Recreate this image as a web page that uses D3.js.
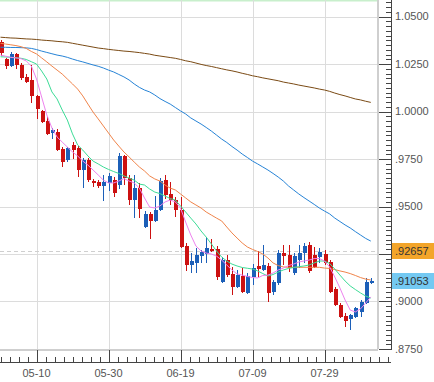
<!DOCTYPE html>
<html><head><meta charset="utf-8">
<script src="https://cdn.jsdelivr.net/npm/d3@7/dist/d3.min.js"></script>
<style>html,body{margin:0;padding:0;background:#fff;}svg{display:block;}</style>
</head><body>
<svg id="c" width="434" height="382"></svg>
<script>
// ---- data ----
const tickLabels = ["05-10","05-30","06-19","07-09","07-29"];
const tickIndex = [7,21,35,49,63];
const yTicks = [1.05,1.025,1.0,0.975,0.95,0.925,0.9,0.875];
const openV = [1.0366,1.0276,1.0239,1.0303,1.0245,1.0182,1.0166,1.0082,1.0003,0.9950,
0.9887,0.9892,0.9803,0.9745,0.9824,0.9808,0.9692,0.9745,0.9634,0.9629,
0.9608,0.9624,0.9639,0.9613,0.9766,0.9650,0.9534,0.9597,0.9392,0.9461,
0.9424,0.9482,0.9639,0.9566,0.9534,0.9482,0.9292,0.9192,0.9203,0.9239,
0.9250,0.9276,0.9276,0.9103,0.9218,0.9145,0.9076,0.9134,0.9045,0.9129,
0.9187,0.9166,0.9187,0.9050,0.9097,0.9255,0.9245,0.9150,0.9218,0.9255,
0.9297,0.9245,0.9234,0.9250,0.9208,0.9066,0.8982,0.8924,0.8908,0.8918,
0.8945,0.8992,0.9097];
const closeV = [1.0308,1.0239,1.0303,1.0245,1.0176,1.0155,1.0082,1.0013,0.9945,0.9882,
0.9903,0.9797,0.9734,0.9808,0.9797,0.9692,0.9745,0.9639,0.9624,0.9608,
0.9629,0.9660,0.9571,0.9766,0.9650,0.9534,0.9597,0.9487,0.9461,0.9424,
0.9482,0.9634,0.9561,0.9534,0.9482,0.9287,0.9192,0.9213,0.9245,0.9261,
0.9282,0.9266,0.9129,0.9218,0.9139,0.9076,0.9139,0.9050,0.9134,0.9176,
0.9171,0.9192,0.9045,0.9103,0.9255,0.9239,0.9176,0.9239,0.9255,0.9292,
0.9161,0.9182,0.9261,0.9203,0.9050,0.8982,0.8918,0.8897,0.8929,0.8966,
0.8997,0.9103,0.91053];
const highV = [1.0376,1.0282,1.0313,1.0308,1.0255,1.0197,1.0245,1.0087,1.0008,0.9971,
0.9913,0.9908,0.9813,0.9813,0.9839,0.9819,0.9755,0.9755,0.9645,0.9639,
0.9666,0.9676,0.9655,0.9782,0.9771,0.9666,0.9666,0.9624,0.9476,0.9471,
0.9555,0.9650,0.9666,0.9629,0.9550,0.9550,0.9308,0.9255,0.9282,0.9271,
0.9339,0.9329,0.9292,0.9234,0.9245,0.9182,0.9166,0.9176,0.9150,0.9197,
0.9266,0.9297,0.9203,0.9113,0.9271,0.9297,0.9297,0.9255,0.9297,0.9308,
0.9313,0.9287,0.9282,0.9271,0.9218,0.9076,0.8992,0.8939,0.8934,0.8971,
0.9008,0.9124,0.9124];
const lowV = [1.0292,1.0224,1.0234,1.0224,1.0166,1.0150,1.0045,0.9961,0.9939,0.9876,
0.9855,0.9792,0.9708,0.9734,0.9750,0.9655,0.9597,0.9629,0.9603,0.9597,
0.9529,0.9582,0.9550,0.9592,0.9613,0.9508,0.9439,0.9439,0.9387,0.9329,
0.9418,0.9476,0.9539,0.9508,0.9445,0.9282,0.9161,0.9150,0.9150,0.9203,
0.9203,0.9261,0.9113,0.9097,0.9129,0.9034,0.9071,0.9045,0.9039,0.9087,
0.9129,0.9161,0.8997,0.9034,0.9087,0.9192,0.9155,0.9139,0.9176,0.9203,
0.9150,0.9176,0.9203,0.9192,0.9045,0.8976,0.8913,0.8866,0.8850,0.8913,
0.8918,0.8987,0.9092];
const ma5 = [1.0297,1.0291,1.0285,1.0282,1.0278,1.0266,1.0239,1.0171,1.0076,0.9982,
0.9913,0.9866,0.9839,0.9813,0.9787,0.9766,0.9739,0.9718,0.9692,0.9666,
0.9639,0.9624,0.9624,0.9634,0.9647,0.9634,0.9624,0.9597,0.9545,0.9497,
0.9492,0.9503,0.9524,0.9534,0.9524,0.9492,0.9418,0.9350,0.9292,0.9266,
0.9255,0.9250,0.9239,0.9218,0.9192,0.9166,0.9145,0.9139,0.9132,0.9126,
0.9124,0.9137,0.9139,0.9150,0.9166,0.9176,0.9189,0.9197,0.9208,0.9213,
0.9218,0.9226,0.9226,0.9213,0.9182,0.9129,0.9071,0.9008,0.8955,0.8945,
0.8961,0.8992,0.9024];
const ma10 = [1.0288,1.0287,1.0285,1.0283,1.0280,1.0274,1.0262,1.0250,1.0213,1.0171,
1.0103,1.0066,1.0008,0.9955,0.9882,0.9824,0.9797,0.9766,0.9739,0.9724,
0.9708,0.9695,0.9684,0.9674,0.9661,0.9650,0.9639,0.9618,0.9613,0.9592,
0.9576,0.9568,0.9555,0.9542,0.9534,0.9503,0.9471,0.9439,0.9408,0.9371,
0.9339,0.9303,0.9266,0.9234,0.9213,0.9197,0.9187,0.9179,0.9175,0.9171,
0.9161,0.9147,0.9134,0.9142,0.9155,0.9166,0.9174,0.9179,0.9183,0.9187,
0.9192,0.9203,0.9213,0.9213,0.9200,0.9171,0.9139,0.9108,0.9082,0.9063,
0.9045,0.9029,0.9018];
const ma20 = [1.0359,1.0355,1.0351,1.0347,1.0341,1.0332,1.0316,1.0303,1.0282,1.0261,
1.0239,1.0218,1.0197,1.0171,1.0145,1.0118,1.0082,1.0039,0.9997,0.9961,
0.9924,0.9887,0.9850,0.9818,0.9787,0.9761,0.9734,0.9708,0.9687,0.9661,
0.9645,0.9634,0.9613,0.9597,0.9587,0.9566,0.9545,0.9524,0.9508,0.9492,
0.9471,0.9455,0.9439,0.9424,0.9392,0.9361,0.9334,0.9308,0.9287,0.9274,
0.9263,0.9250,0.9229,0.9203,0.9189,0.9182,0.9180,0.9180,0.9180,0.9180,
0.9180,0.9180,0.9180,0.9176,0.9174,0.9168,0.9161,0.9155,0.9147,0.9137,
0.9126,0.9118,0.9113];
const ma60 = [1.0338,1.0338,1.0337,1.0337,1.0336,1.0335,1.0332,1.0326,1.0318,1.0311,
1.0304,1.0297,1.0292,1.0285,1.0276,1.0268,1.0261,1.0253,1.0245,1.0238,
1.0229,1.0218,1.0208,1.0195,1.0182,1.0166,1.0145,1.0127,1.0113,1.0103,
1.0087,1.0068,1.0053,1.0039,1.0021,1.0003,0.9987,0.9966,0.9950,0.9934,
0.9916,0.9897,0.9876,0.9855,0.9837,0.9816,0.9797,0.9776,0.9758,0.9739,
0.9724,0.9708,0.9692,0.9674,0.9655,0.9634,0.9608,0.9587,0.9566,0.9547,
0.9529,0.9511,0.9492,0.9476,0.9461,0.9439,0.9421,0.9403,0.9387,0.9368,
0.9350,0.9332,0.9318];
const ma200 = [1.0391,1.0389,1.0387,1.0386,1.0384,1.0382,1.0381,1.0379,1.0376,1.0374,
1.0372,1.0369,1.0367,1.0364,1.0359,1.0354,1.0349,1.0344,1.0339,1.0334,
1.0331,1.0327,1.0324,1.0321,1.0318,1.0316,1.0313,1.0310,1.0306,1.0302,
1.0296,1.0292,1.0288,1.0284,1.0280,1.0274,1.0267,1.0262,1.0255,1.0248,
1.0242,1.0237,1.0231,1.0225,1.0219,1.0214,1.0208,1.0201,1.0195,1.0188,
1.0183,1.0177,1.0172,1.0167,1.0162,1.0155,1.0150,1.0145,1.0139,1.0134,
1.0129,1.0124,1.0118,1.0113,1.0106,1.0097,1.0089,1.0082,1.0074,1.0066,
1.0061,1.0054,1.0048];
const markLevel = 0.92657;
const lastPrice = 0.91053;

// ---- layout ----
const plotRight = 378, plotBottom = 349, axisX = 391, xAxisY = 362;
const svg = d3.select("#c");
const n = openV.length;
const x = d3.scaleLinear().domain([0, 14]).range([0.5, 72.5]);
const y = d3.scaleLinear().domain([0.875, 1.05]).range([plotBottom, 16.5]);
const font = "'Liberation Sans', Arial, sans-serif";

// top border
svg.append("rect").attr("x",0).attr("y",0).attr("width",plotRight).attr("height",1.5).attr("fill","#c8efcc");

// grid
const g = svg.append("g").attr("shape-rendering","crispEdges");
yTicks.forEach(v => {
  const yy = Math.round(y(v)) + 0.5;
  g.append("line").attr("x1",0).attr("x2",plotRight).attr("y1",yy).attr("y2",yy).attr("stroke","#dcdcdc");
});
tickIndex.forEach(i => {
  const xx = Math.round(x(i)) + 0.5;
  g.append("line").attr("x1",xx).attr("x2",xx).attr("y1",0).attr("y2",plotBottom).attr("stroke","#dcdcdc");
});
svg.append("line").attr("x1",0).attr("x2",plotRight)
  .attr("y1",Math.round(y(markLevel))+0.5).attr("y2",Math.round(y(markLevel))+0.5)
  .attr("stroke","#cfcfcf").attr("stroke-dasharray","4,3").attr("shape-rendering","crispEdges");
g.append("line").attr("x1",plotRight).attr("x2",plotRight).attr("y1",0).attr("y2",plotBottom).attr("stroke","#cfcfcf").attr("stroke-width",2);
g.append("line").attr("x1",0).attr("x2",plotRight).attr("y1",plotBottom+0.5).attr("y2",plotBottom+0.5).attr("stroke","#cfcfcf").attr("stroke-width",2);

svg.append("clipPath").attr("id","clip").append("rect").attr("x",0).attr("y",0).attr("width",plotRight-1).attr("height",plotBottom);
const pg = svg.append("g").attr("clip-path","url(#clip)");

// candles
const cg = pg.append("g").attr("shape-rendering","crispEdges");
d3.range(n).forEach(i => {
  const up = closeV[i] >= openV[i];
  const col = up ? "#1c5fb8" : "#cc1111";
  const cx = Math.round(x(i));
  cg.append("line").attr("x1",cx+0.5).attr("x2",cx+0.5)
    .attr("y1",y(highV[i])).attr("y2",y(lowV[i])).attr("stroke",col).attr("stroke-width",1);
  const top = y(Math.max(openV[i],closeV[i])), bot = y(Math.min(openV[i],closeV[i]));
  cg.append("rect").attr("x",cx-1.5).attr("y",top).attr("width",4).attr("height",Math.max(1,bot-top)).attr("fill",col);
});

// moving averages
const line = d3.line().x((d,i)=>x(i)).y(d=>y(d));
[[ma200,"#7a4a14"],[ma60,"#2683d6"],[ma20,"#f0844a"],[ma10,"#3ddc97"],[ma5,"#ee82ee"]].forEach(([arr,col]) => {
  pg.append("path").datum(arr).attr("d",line).attr("fill","none").attr("stroke",col).attr("stroke-width",1);
});

// right axis
const ax = svg.append("g").attr("shape-rendering","crispEdges");
ax.append("line").attr("x1",axisX+0.5).attr("x2",axisX+0.5).attr("y1",0).attr("y2",plotBottom+1).attr("stroke","#444");
d3.range(0, 75).forEach(j => {
  const v = 0.875 + j*0.0025;
  const yy = Math.round(y(v)) + 0.5;
  if (yy < 0) return;
  const major = (j % 10) === 0;
  ax.append("line").attr("x1", major ? plotRight+1 : axisX-5).attr("x2",axisX).attr("y1",yy).attr("y2",yy).attr("stroke","#444");
});
const boxes = [[markLevel,"#f3a52a"],[lastPrice,"#74c9f2"]];
yTicks.forEach(v => {
  // labels covered by a value box are not shown, as in the reference
  if (boxes.some(b => Math.abs(y(b[0]) - y(v)) < 12)) return;
  const s = v >= 1 ? v.toFixed(4) : v.toFixed(4).replace(/^0/,"");
  svg.append("text").attr("x",395).attr("y",y(v)).attr("dy","0.35em")
    .attr("font-family",font).attr("font-size",11).attr("fill","#555").text(s);
});

// bottom axis
const bx = svg.append("g").attr("shape-rendering","crispEdges");
bx.append("line").attr("x1",0).attr("x2",axisX).attr("y1",xAxisY+0.5).attr("y2",xAxisY+0.5).attr("stroke","#444");
const majorW = x(14) - x(0);
const x0 = x(tickIndex[0]);
const step = majorW / 8;
for (let t = x0 - step*Math.floor(x0/step); t <= axisX - 2; t += step) {
  const xx = Math.round(t) + 0.5;
  bx.append("line").attr("x1",xx).attr("x2",xx).attr("y1",xAxisY-5).attr("y2",xAxisY).attr("stroke","#444");
}
tickIndex.forEach((i,k) => {
  const xx = Math.round(x(i)) + 0.5;
  bx.append("line").attr("x1",xx).attr("x2",xx).attr("y1",plotBottom+1).attr("y2",xAxisY).attr("stroke","#444");
  svg.append("text").attr("x",x(i)).attr("y",377).attr("text-anchor","middle")
    .attr("font-family",font).attr("font-size",11).attr("fill","#555").text(tickLabels[k]);
});

// value boxes
boxes.forEach(([v, fill]) => {
  const yy = y(v);
  svg.append("rect").attr("x",392).attr("y",Math.round(yy)-8).attr("width",42).attr("height",16).attr("fill",fill);
  svg.append("text").attr("x",395).attr("y",yy).attr("dy","0.35em")
    .attr("font-family",font).attr("font-size",11).attr("fill","#333").text(v.toFixed(5).replace(/^0/,""));
});
</script>
</body></html>
